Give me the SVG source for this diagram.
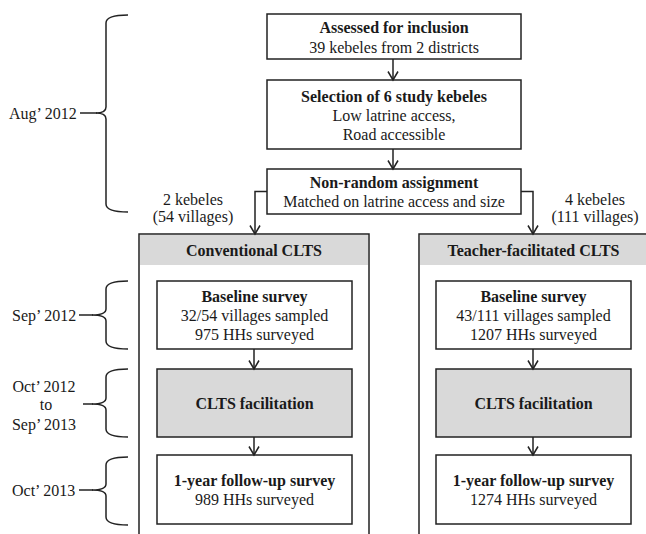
<svg xmlns="http://www.w3.org/2000/svg" width="646" height="534" viewBox="0 0 646 534">
<defs>
<style>
text{font-family:"Liberation Serif","Times New Roman",serif;font-size:16px;fill:#1a1a1a;text-anchor:middle}
.b{font-weight:bold}
.l{text-anchor:start}
.box{fill:#fff;stroke:#222;stroke-width:1.5}
.gbox{fill:#d9d9d9;stroke:#222;stroke-width:1.5}
.ln{fill:none;stroke:#222;stroke-width:1.5}
</style>
<marker id="arr" markerUnits="userSpaceOnUse" viewBox="-1 -6 11 12" refX="8.5" refY="0" markerWidth="11" markerHeight="12" orient="auto">
<path d="M0,-5 L8.5,0 L0,5" fill="none" stroke="#222" stroke-width="1.5"/>
</marker>
</defs>
<rect width="646" height="534" fill="#fff"/>

<g id="timeline">
<g id="t-aug2012">
<path class="ln" d="M128,15 Q106,15 106,23 L106,107 Q106,113 96,113 Q106,113 106,119 L106,204 Q106,212 128,212"/>
<line class="ln" x1="80" y1="113" x2="97" y2="113"/>
<text x="9" y="119" class="l">Aug’ 2012</text>
</g>
<g id="t-sep2012">
<path class="ln" d="M128,281 Q106,281 106,289 L106,309 Q106,315 92,315 Q106,315 106,321 L106,341 Q106,349 128,349"/>
<line class="ln" x1="79" y1="315" x2="93" y2="315"/>
<text x="12" y="321" class="l">Sep’ 2012</text>
</g>
<g id="t-oct2012">
<path class="ln" d="M128,369 Q106,369 106,377 L106,398 Q106,404 92,404 Q106,404 106,410 L106,429 Q106,437 128,437"/>
<line class="ln" x1="83" y1="404" x2="93" y2="404"/>
<text x="44" y="392">Oct’ 2012</text>
<text x="46" y="410">to</text>
<text x="44" y="430">Sep’ 2013</text>
</g>
<g id="t-oct2013">
<path class="ln" d="M128,457 Q106,457 106,465 L106,484 Q106,490 92,490 Q106,490 106,496 L106,517 Q106,525 128,525"/>
<line class="ln" x1="79" y1="490" x2="93" y2="490"/>
<text x="12" y="496" class="l">Oct’ 2013</text>
</g>
</g>

<g id="arm-conventional">
<path class="box" d="M139,540 V234 H369 V540"/>
<rect x="140" y="235" width="228" height="30" fill="#d9d9d9"/>
<text x="254" y="256" class="b">Conventional CLTS</text>
</g>
<g id="arm-teacher">
<path class="box" d="M419,540 V234 H650 V540"/>
<rect x="420" y="235" width="230" height="30" fill="#d9d9d9"/>
<text x="533.5" y="256" class="b">Teacher-facilitated CLTS</text>
</g>

<g id="n-assessed">
<rect class="box" x="267" y="14" width="254" height="45"/>
<text x="394" y="33" class="b">Assessed for inclusion</text>
<text x="394" y="52.5">39 kebeles from 2 districts</text>
</g>
<g id="n-selection">
<rect class="box" x="267" y="80" width="254" height="69"/>
<text x="394" y="101.5" class="b">Selection of 6 study kebeles</text>
<text x="394" y="120.5">Low latrine access,</text>
<text x="394" y="139.5">Road accessible</text>
</g>
<g id="n-assignment">
<rect class="box" x="267" y="169" width="254" height="45"/>
<text x="394" y="188" class="b">Non-random assignment</text>
<text x="394" y="206.5">Matched on latrine access and size</text>
</g>
<g id="n-left-label">
<text x="193" y="205">2 kebeles</text>
<text x="193" y="222">(54 villages)</text>
</g>
<g id="n-right-label">
<text x="595" y="205">4 kebeles</text>
<text x="595" y="222">(111 villages)</text>
</g>

<g id="n-baseline-c">
<rect class="box" x="157" y="281" width="195" height="68"/>
<text x="254.5" y="301.5" class="b">Baseline survey</text>
<text x="254.5" y="321">32/54 villages sampled</text>
<text x="254.5" y="340">975 HHs surveyed</text>
</g>
<g id="n-clts-c">
<rect class="gbox" x="157" y="369" width="195" height="68"/>
<text x="254.5" y="408.5" class="b">CLTS facilitation</text>
</g>
<g id="n-followup-c">
<rect class="box" x="157" y="455" width="195" height="69"/>
<text x="254.5" y="486" class="b">1-year follow-up survey</text>
<text x="254.5" y="505">989 HHs surveyed</text>
</g>

<g id="n-baseline-t">
<rect class="box" x="436" y="281" width="195" height="68"/>
<text x="533.5" y="301.5" class="b">Baseline survey</text>
<text x="533.5" y="321">43/111 villages sampled</text>
<text x="533.5" y="340">1207 HHs surveyed</text>
</g>
<g id="n-clts-t">
<rect class="gbox" x="436" y="369" width="195" height="68"/>
<text x="533.5" y="408.5" class="b">CLTS facilitation</text>
</g>
<g id="n-followup-t">
<rect class="box" x="436" y="455" width="195" height="69"/>
<text x="533.5" y="486" class="b">1-year follow-up survey</text>
<text x="533.5" y="505">1274 HHs surveyed</text>
</g>

<g id="connectors">
<line class="ln" x1="393" y1="59" x2="393" y2="80" marker-end="url(#arr)"/>
<line class="ln" x1="393" y1="149" x2="393" y2="169" marker-end="url(#arr)"/>
<polyline class="ln" points="267,191.5 255,191.5 255,234" marker-end="url(#arr)"/>
<polyline class="ln" points="521,191.5 533,191.5 533,234" marker-end="url(#arr)"/>
<line class="ln" x1="254" y1="349" x2="254" y2="369" marker-end="url(#arr)"/>
<line class="ln" x1="254" y1="437" x2="254" y2="455" marker-end="url(#arr)"/>
<line class="ln" x1="533" y1="349" x2="533" y2="369" marker-end="url(#arr)"/>
<line class="ln" x1="533" y1="437" x2="533" y2="455" marker-end="url(#arr)"/>
</g>
</svg>
